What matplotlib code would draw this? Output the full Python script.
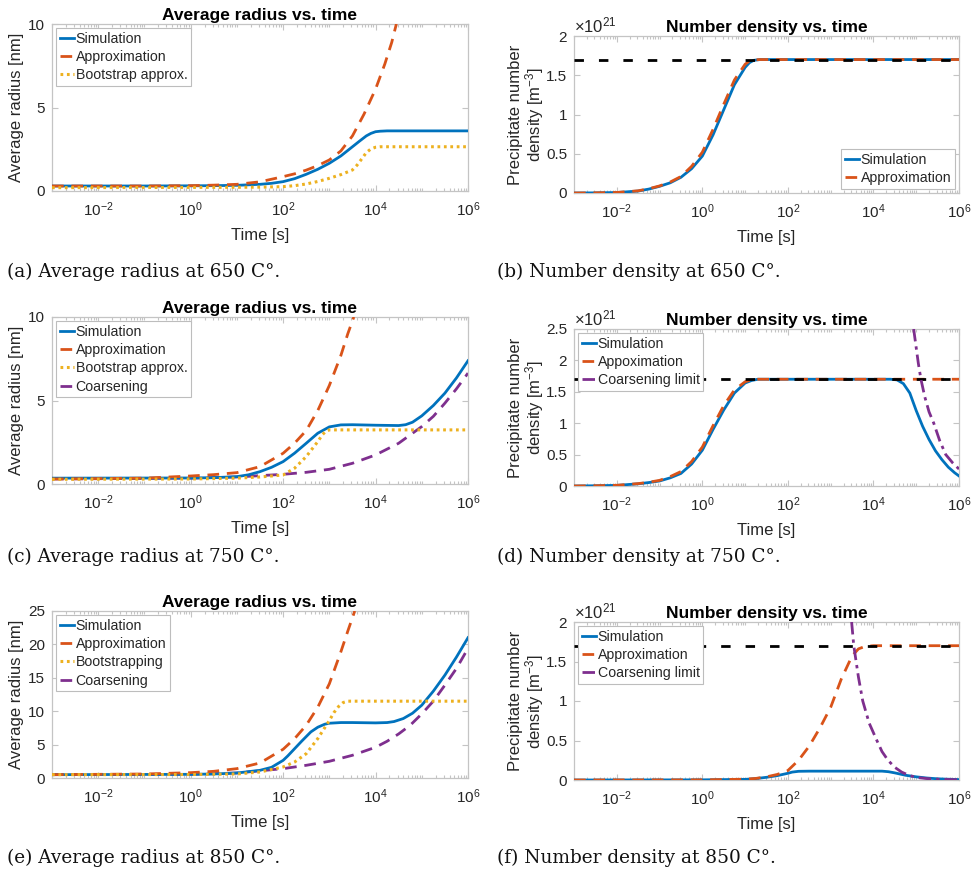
import numpy as np
import matplotlib
matplotlib.use("Agg")
import matplotlib.pyplot as plt
from matplotlib.ticker import FixedLocator, FuncFormatter, LogLocator, NullFormatter

plt.rcParams['font.family'] = ['Liberation Sans', 'DejaVu Sans']
plt.rcParams['mathtext.fontset'] = 'custom'
plt.rcParams['mathtext.rm'] = 'Liberation Sans'
plt.rcParams['mathtext.it'] = 'Liberation Sans:italic'
plt.rcParams['mathtext.bf'] = 'Liberation Sans:bold'

# ---------------- data (time given as log10 exponents) ----------------
# (a) 650 C radius [nm]
a_sim_e = [-3, -1, 0, 0.5, 1, 1.5, 1.75, 2, 2.25, 2.5, 2.75, 3, 3.25, 3.5, 3.65, 3.8, 3.9, 4, 4.1, 4.25, 6]
a_sim_v = [0.3, 0.3, 0.31, 0.32, 0.34, 0.4, 0.46, 0.56, 0.74, 1.0, 1.3, 1.66, 2.1, 2.65, 2.98, 3.3, 3.45, 3.55, 3.58, 3.6, 3.6]
a_app_e = [-3, -1, 0, 0.5, 1, 1.5, 2, 2.25, 2.5, 2.75, 3, 3.25, 3.5, 3.75, 4, 4.2, 4.35, 4.45]
a_app_v = [0.3, 0.3, 0.32, 0.35, 0.4, 0.55, 0.86, 1.03, 1.25, 1.52, 1.86, 2.4, 3.3, 4.6, 6.1, 7.6, 8.9, 10.0]
a_bst_e = [-3, 1, 1.5, 2, 2.25, 2.5, 2.75, 3, 3.25, 3.5, 3.6, 3.7, 3.8, 3.9, 4.0, 4.1, 6]
a_bst_v = [0.2, 0.22, 0.23, 0.26, 0.32, 0.42, 0.57, 0.76, 0.98, 1.26, 1.55, 1.92, 2.3, 2.52, 2.62, 2.65, 2.65]

# (b) 650 C number density [x 1e21 m^-3]
b_sim_e = [-3, -2.5, -2, -1.5, -1.25, -1, -0.75, -0.5, -0.25, 0, 0.25, 0.5, 0.75, 1, 1.1, 1.2, 1.35, 1.5, 6]
b_sim_v = [0, 0.002, 0.006, 0.025, 0.05, 0.085, 0.13, 0.2, 0.31, 0.47, 0.74, 1.06, 1.38, 1.6, 1.66, 1.69, 1.7, 1.7, 1.7]
b_app_e = [-3, -2.5, -2, -1.5, -1.25, -1, -0.75, -0.5, -0.25, 0, 0.25, 0.5, 0.75, 1, 1.1, 1.2, 1.35, 1.5, 6]
b_app_v = [0, 0.002, 0.007, 0.028, 0.055, 0.09, 0.14, 0.21, 0.34, 0.52, 0.81, 1.13, 1.44, 1.64, 1.68, 1.695, 1.7, 1.7, 1.7]
b_lim_e = [-3, 6]
b_lim_v = [1.7, 1.7]

# (c) 750 C radius [nm]
c_sim_e = [-3, 0, 0.5, 1, 1.25, 1.5, 1.75, 2, 2.25, 2.5, 2.75, 3, 3.25, 3.5, 4, 4.5, 4.65, 4.8, 5, 5.25, 5.5, 5.75, 6]
c_sim_v = [0.35, 0.36, 0.38, 0.44, 0.55, 0.74, 1.0, 1.34, 1.85, 2.44, 3.04, 3.42, 3.54, 3.55, 3.52, 3.5, 3.55, 3.7, 4.08, 4.7, 5.44, 6.35, 7.38]
c_app_e = [-3, -1, 0, 0.5, 1, 1.5, 2, 2.25, 2.5, 2.75, 3, 3.25, 3.4, 3.53]
c_app_v = [0.3, 0.35, 0.48, 0.56, 0.68, 1.04, 1.84, 2.45, 3.2, 4.4, 5.9, 7.7, 9.0, 10.0]
c_bst_e = [-3, 0, 1, 1.5, 2, 2.25, 2.5, 2.75, 2.85, 2.92, 3.0, 6]
c_bst_v = [0.28, 0.3, 0.35, 0.42, 0.54, 0.95, 1.64, 2.54, 2.95, 3.15, 3.24, 3.24]
c_crs_e = [-3, 0, 1, 1.5, 2, 2.5, 3, 3.5, 4, 4.5, 5, 5.25, 5.5, 5.75, 6]
c_crs_v = [0.3, 0.35, 0.42, 0.5, 0.58, 0.7, 0.88, 1.24, 1.74, 2.44, 3.44, 4.05, 4.84, 5.7, 6.64]

# (d) 750 C number density [x 1e21 m^-3]
d_sim_e = [-3, -2.5, -2, -1.5, -1.25, -1, -0.75, -0.5, -0.25, 0, 0.25, 0.5, 0.75, 1, 1.15, 1.3, 1.5,
           4.4, 4.55, 4.7, 4.85, 5.0, 5.15, 5.3, 5.45, 5.6, 5.75, 5.9, 6]
d_sim_v = [0, 0.004, 0.01, 0.035, 0.055, 0.08, 0.13, 0.2, 0.35, 0.57, 0.9, 1.21, 1.48, 1.64, 1.68, 1.7, 1.7,
           1.7, 1.69, 1.63, 1.48, 1.2, 0.95, 0.74, 0.56, 0.42, 0.3, 0.21, 0.16]
d_app_e = [-3, -2.5, -2, -1.5, -1.25, -1, -0.75, -0.5, -0.25, 0, 0.25, 0.5, 0.75, 1, 1.15, 1.3, 1.5, 6]
d_app_v = [0, 0.004, 0.011, 0.038, 0.06, 0.09, 0.15, 0.23, 0.39, 0.62, 0.96, 1.28, 1.53, 1.66, 1.69, 1.7, 1.7, 1.7]
d_crs_e = [4.94, 5.0, 5.05, 5.11, 5.2, 5.3, 5.41, 5.55, 5.69, 5.85, 6.0]
d_crs_v = [2.5, 2.2, 1.95, 1.7, 1.42, 1.18, 1.0, 0.72, 0.5, 0.37, 0.27]
d_lim_e = [-3, 6]
d_lim_v = [1.7, 1.7]

# (e) 850 C radius [nm]
e_sim_e = [-3, 0, 0.5, 1, 1.5, 1.75, 2, 2.1, 2.25, 2.4, 2.5, 2.6, 2.75, 2.9, 3, 3.25, 3.5, 4, 4.25, 4.4,
           4.6, 4.8, 5, 5.25, 5.5, 5.75, 6]
e_sim_v = [0.5, 0.55, 0.6, 0.75, 1.15, 1.6, 2.64, 3.3, 4.4, 5.5, 6.2, 6.9, 7.6, 8.05, 8.2, 8.3, 8.3, 8.25, 8.3, 8.45,
           8.9, 9.7, 10.9, 13.0, 15.4, 18.1, 21.0]
e_app_e = [-3, -1, 0, 0.5, 1, 1.5, 2, 2.25, 2.5, 2.75, 3, 3.25, 3.4, 3.55]
e_app_v = [0.5, 0.6, 0.8, 1.0, 1.4, 2.25, 4.3, 5.9, 7.9, 10.6, 14.1, 18.9, 22.0, 25.0]
e_bst_e = [-3, 0, 1, 1.5, 2, 2.25, 2.5, 2.75, 3, 3.1, 3.2, 3.3, 3.4, 6]
e_bst_v = [0.5, 0.52, 0.6, 0.9, 1.65, 2.4, 3.64, 5.9, 8.6, 9.8, 10.7, 11.3, 11.5, 11.5]
e_crs_e = [-3, 0, 1, 2, 2.5, 3, 3.5, 4, 4.25, 4.5, 4.75, 5, 5.25, 5.5, 5.75, 6]
e_crs_v = [0.5, 0.55, 0.75, 1.4, 1.9, 2.5, 3.4, 4.6, 5.5, 6.6, 7.9, 9.6, 11.5, 13.9, 16.4, 19.4]

# (f) 850 C number density [x 1e21 m^-3]
f_sim_e = [-3, 0, 1, 1.25, 1.5, 1.75, 2, 2.1, 2.25, 2.5, 4.2, 4.35, 4.5, 4.75, 5, 5.25, 5.5, 6]
f_sim_v = [0, 0.002, 0.008, 0.018, 0.034, 0.055, 0.085, 0.1, 0.11, 0.112, 0.112, 0.105, 0.09, 0.06, 0.04, 0.025, 0.015, 0.005]
f_app_e = [-3, 0, 1, 1.25, 1.5, 1.75, 2, 2.25, 2.5, 2.75, 3, 3.25, 3.5, 3.65, 3.8, 4, 6]
f_app_v = [0, 0.002, 0.01, 0.02, 0.04, 0.07, 0.12, 0.25, 0.43, 0.66, 0.92, 1.28, 1.57, 1.66, 1.69, 1.7, 1.7]
f_crs_e = [3.49, 3.54, 3.65, 3.75, 3.9, 4.08, 4.2, 4.34, 4.5, 4.66, 4.85, 5.04, 5.25, 5.5, 5.75, 6]
f_crs_v = [2.0, 1.7, 1.3, 1.0, 0.72, 0.5, 0.36, 0.25, 0.16, 0.1, 0.055, 0.03, 0.018, 0.01, 0.006, 0.003]
f_lim_e = [-3, 6]
f_lim_v = [1.7, 1.7]

captions = ["(a) Average radius at 650 C°.", "(b) Number density at 650 C°.",
            "(c) Average radius at 750 C°.", "(d) Number density at 750 C°.",
            "(e) Average radius at 850 C°.", "(f) Number density at 850 C°."]

# ---------------- styles ----------------
BLUE, ORANGE, YELLOW, PURPLE = '#0072BD', '#D95319', '#EDB120', '#7E2F8E'
GRAY = '#262626'
SPINE = '#c4c4c4'
W, H = 979, 874

fig = plt.figure(figsize=(W / 100, H / 100), dpi=100)


def px_axes(l, t, r, b):
    return fig.add_axes([l / W, 1 - b / H, (r - l) / W, (b - t) / H])


def T(e):
    return 10.0 ** np.asarray(e, dtype=float)


def style(ax, ymax, yticks):
    ax.set_xscale('log')
    ax.set_xlim(1e-3, 1e6)
    ax.set_ylim(0, ymax)
    ax.xaxis.set_major_locator(FixedLocator([1e-2, 1e0, 1e2, 1e4, 1e6]))
    ax.xaxis.set_minor_locator(LogLocator(base=10, subs=np.arange(1, 10), numticks=100))
    ax.xaxis.set_minor_formatter(NullFormatter())
    ax.set_yticks(yticks)
    ax.yaxis.set_major_formatter(FuncFormatter(lambda v, p: '%g' % v))
    ax.tick_params(which='both', direction='in', top=True, right=True,
                   color=SPINE, labelcolor=GRAY, labelsize=11, width=0.8)
    ax.tick_params(which='major', length=4)
    ax.tick_params(axis='x', which='major', pad=7)
    ax.tick_params(axis='y', which='major', pad=5)
    ax.tick_params(which='minor', length=2)
    for s in ax.spines.values():
        s.set_color(SPINE)
        s.set_linewidth(0.9)
    ax.set_xlabel('Time [s]', fontsize=12, color=GRAY, labelpad=6)


def leg(ax, **kw):
    L = ax.legend(fontsize=10.2, handlelength=1.0, handletextpad=0.12, borderpad=0.25,
                  labelspacing=0.3, fancybox=False, framealpha=1, edgecolor='#bdbdbd',
                  borderaxespad=0.3, **kw)
    L.get_frame().set_linewidth(0.8)
    for t in L.get_texts():
        t.set_color(GRAY)
    return L


LW = 2.0
orange_dash = dict(color=ORANGE, lw=LW, dashes=(4.2, 2.8))
yellow_dot = dict(color=YELLOW, lw=2.2, dashes=(0.9, 1.2))
purple_dash = dict(color=PURPLE, lw=LW, dashes=(4.2, 2.8))
purple_dashdot = dict(color=PURPLE, lw=LW, dashes=(4.5, 1.8, 1.2, 1.8))
black_dash = dict(color='black', lw=LW, dashes=(3.4, 5.4))


def radius_panel(ax, ymax, yticks, sim, app, bst, crs=None, bst_label='Bootstrap approx.'):
    ax.plot(T(sim[0]), sim[1], color=BLUE, lw=LW, label='Simulation', zorder=3)
    ax.plot(T(app[0]), app[1], label='Approximation', zorder=4, **orange_dash)
    ax.plot(T(bst[0]), bst[1], label=bst_label, zorder=4, **yellow_dot)
    if crs is not None:
        ax.plot(T(crs[0]), crs[1], label='Coarsening', zorder=2, **purple_dash)
    style(ax, ymax, yticks)
    ax.set_title('Average radius vs. time', fontsize=12.5, fontweight='bold', pad=3)
    ax.set_ylabel('Average radius [nm]', fontsize=12, color=GRAY)
    ax.yaxis.set_label_coords(-0.067, 0.5)
    leg(ax, loc='upper left')


def density_panel(ax, ymax, yticks, sim, app, lim, crs=None, app_label='Approximation', loc='upper left'):
    ax.plot(T(sim[0]), sim[1], color=BLUE, lw=LW, label='Simulation', zorder=3)
    ax.plot(T(app[0]), app[1], label=app_label, zorder=4, **orange_dash)
    ax.plot(T(lim[0]), lim[1], zorder=5, **black_dash)
    if crs is not None:
        ax.plot(T(crs[0]), crs[1], label='Coarsening limit', zorder=6, **purple_dashdot)
    style(ax, ymax, yticks)
    ax.set_title('Number density vs. time', fontsize=12.5, fontweight='bold', pad=3)
    ax.set_ylabel('Precipitate number\ndensity [m$^{-3}$]', fontsize=12, color=GRAY,
                  linespacing=1.0)
    ax.yaxis.set_label_coords(-0.072, 0.5)
    ax.text(0.0, 1.005, r'$\times10^{21}$', transform=ax.transAxes, fontsize=12,
            color=GRAY, ha='left', va='bottom')
    leg(ax, loc=loc)


ax_a = px_axes(52, 24, 468, 191)
radius_panel(ax_a, 10, [0, 5, 10], (a_sim_e, a_sim_v), (a_app_e, a_app_v), (a_bst_e, a_bst_v))

ax_b = px_axes(574, 36, 959, 193)
density_panel(ax_b, 2, [0, 0.5, 1, 1.5, 2], (b_sim_e, b_sim_v), (b_app_e, b_app_v),
              (b_lim_e, b_lim_v), loc='lower right')

ax_c = px_axes(52, 317, 468, 484)
radius_panel(ax_c, 10, [0, 5, 10], (c_sim_e, c_sim_v), (c_app_e, c_app_v), (c_bst_e, c_bst_v),
             (c_crs_e, c_crs_v))

ax_d = px_axes(574, 329, 959, 486)
density_panel(ax_d, 2.5, [0, 0.5, 1, 1.5, 2, 2.5], (d_sim_e, d_sim_v), (d_app_e, d_app_v),
              (d_lim_e, d_lim_v), (d_crs_e, d_crs_v), app_label='Appoximation')

ax_e = px_axes(52, 611, 468, 778)
radius_panel(ax_e, 25, [0, 5, 10, 15, 20, 25], (e_sim_e, e_sim_v), (e_app_e, e_app_v),
             (e_bst_e, e_bst_v), (e_crs_e, e_crs_v), bst_label='Bootstrapping')

ax_f = px_axes(574, 622, 959, 780)
density_panel(ax_f, 2, [0, 0.5, 1, 1.5, 2], (f_sim_e, f_sim_v), (f_app_e, f_app_v),
              (f_lim_e, f_lim_v), (f_crs_e, f_crs_v))

cap_pos = [(7, 272), (497, 272), (7, 557), (497, 557), (7, 858), (497, 858)]
for (x, y), c in zip(cap_pos, captions):
    fig.text(x / W, 1 - y / H, c, fontsize=13.3, family='DejaVu Serif', ha='left', va='center',
             color='#111111')

fig.savefig('out.png', dpi=100)
